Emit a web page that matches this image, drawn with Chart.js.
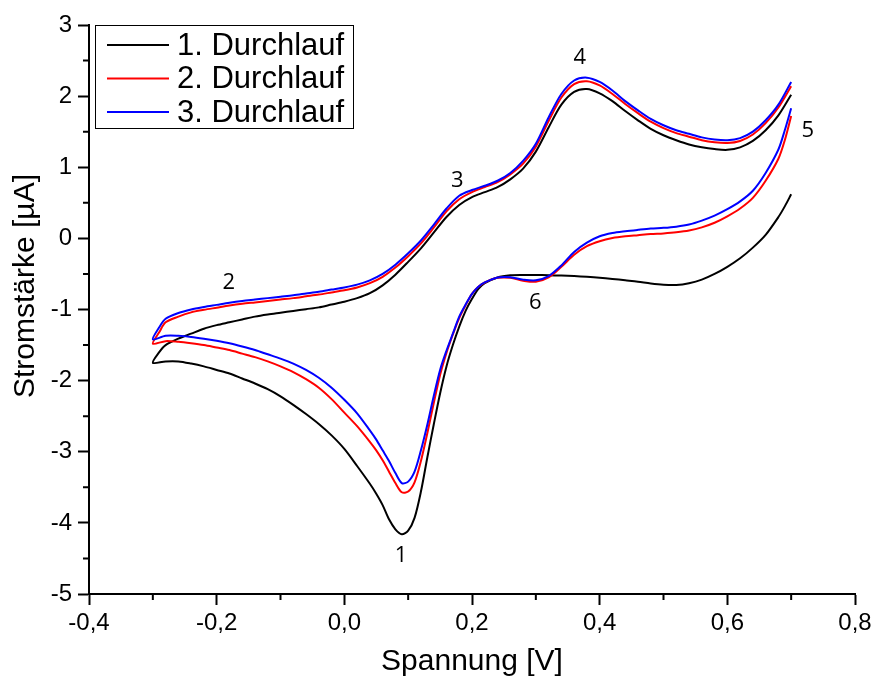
<!DOCTYPE html>
<html>
<head>
<meta charset="utf-8">
<script src="https://cdn.jsdelivr.net/npm/chart.js@4.4.1/dist/chart.umd.min.js"></script>
<style>
html, body { margin: 0; padding: 0; background: #fff; }
</style>
</head>
<body>
<canvas id="cvChart" width="878" height="680"></canvas>
<script>
// cathodic sweep 0.7 -> -0.3 V
var backV = [
  0.70, 0.69, 0.68, 0.66, 0.64, 0.62, 0.60, 0.58, 0.56, 0.54, 0.52, 0.50, 0.48, 0.46, 0.44,
  0.42, 0.40, 0.38, 0.36, 0.34, 0.32, 0.30, 0.28, 0.26, 0.24, 0.22, 0.21, 0.20, 0.19, 0.18,
  0.17, 0.16, 0.15, 0.14, 0.13, 0.12, 0.11, 0.10, 0.09, 0.08, 0.07, 0.06, 0.05, 0.04, 0.02,
  0.00, -0.02, -0.04, -0.06, -0.08, -0.10, -0.12, -0.14, -0.16, -0.18, -0.20, -0.22, -0.24,
  -0.26, -0.28, -0.30
];
// anodic sweep -0.3 -> 0.7 V
var fwdV = [
  -0.29, -0.28, -0.26, -0.24, -0.22, -0.20, -0.18, -0.16, -0.14, -0.12, -0.10, -0.08, -0.06,
  -0.04, -0.02, 0.00, 0.02, 0.04, 0.06, 0.08, 0.10, 0.12, 0.14, 0.16, 0.18, 0.20, 0.22, 0.24,
  0.26, 0.28, 0.30, 0.32, 0.34, 0.36, 0.38, 0.40, 0.42, 0.44, 0.46, 0.48, 0.50, 0.52, 0.54,
  0.56, 0.58, 0.60, 0.62, 0.64, 0.66, 0.68, 0.70
];

// current in µA, run 1..3, cathodic part
var back1 = [
  0.62, 0.45, 0.30, 0.05, -0.13, -0.28, -0.40, -0.50, -0.58, -0.63, -0.655, -0.652, -0.635, -0.61, -0.59,
  -0.57, -0.553, -0.54, -0.53, -0.523, -0.518, -0.515, -0.515, -0.52, -0.55, -0.63, -0.71, -0.85, -1.02, -1.24,
  -1.50, -1.80, -2.18, -2.62, -3.08, -3.56, -3.93, -4.11, -4.16, -4.09, -3.95, -3.75, -3.59, -3.45, -3.20,
  -2.96, -2.77, -2.61, -2.47, -2.34, -2.22, -2.12, -2.04, -1.97, -1.90, -1.85, -1.80, -1.76,
  -1.73, -1.73, -1.75
];
var back2 = [
  1.72, 1.38, 1.12, 0.81, 0.57, 0.42, 0.31, 0.22, 0.155, 0.11, 0.085, 0.07, 0.06, 0.045, 0.03,
  0.005, -0.04, -0.11, -0.23, -0.40, -0.55, -0.61, -0.595, -0.555, -0.555, -0.62, -0.68, -0.78, -0.94, -1.12,
  -1.35, -1.61, -1.92, -2.32, -2.74, -3.13, -3.43, -3.56, -3.57, -3.44, -3.28, -3.12, -2.98, -2.86, -2.64,
  -2.45, -2.26, -2.10, -1.98, -1.88, -1.80, -1.73, -1.67, -1.62, -1.57, -1.535, -1.50, -1.475,
  -1.455, -1.445, -1.48
];
var back3 = [
  1.83, 1.52, 1.25, 0.92, 0.67, 0.52, 0.41, 0.32, 0.25, 0.195, 0.165, 0.148, 0.138, 0.12, 0.10,
  0.075, 0.03, -0.06, -0.19, -0.38, -0.53, -0.59, -0.58, -0.545, -0.55, -0.62, -0.68, -0.78, -0.93, -1.10,
  -1.34, -1.58, -1.85, -2.22, -2.62, -2.98, -3.28, -3.42, -3.44, -3.30, -3.13, -2.98, -2.83, -2.70, -2.46,
  -2.27, -2.10, -1.96, -1.85, -1.76, -1.69, -1.63, -1.57, -1.52, -1.475, -1.44, -1.41, -1.385,
  -1.37, -1.37, -1.42
];
// anodic part
var fwd1 = [
  -1.60, -1.50, -1.41, -1.34, -1.27, -1.22, -1.18, -1.14, -1.10, -1.07, -1.045, -1.02, -0.995,
  -0.97, -0.93, -0.89, -0.84, -0.77, -0.66, -0.51, -0.33, -0.14, 0.08, 0.30, 0.47, 0.58, 0.65, 0.72,
  0.83, 0.98, 1.22, 1.56, 1.88, 2.06, 2.10, 2.04, 1.93, 1.79, 1.66, 1.54, 1.45, 1.38, 1.32,
  1.28, 1.255, 1.245, 1.28, 1.37, 1.52, 1.73, 2.02
];
var fwd2 = [
  -1.32, -1.18, -1.10, -1.04, -1.005, -0.975, -0.945, -0.92, -0.90, -0.88, -0.86, -0.84, -0.815,
  -0.79, -0.76, -0.73, -0.69, -0.63, -0.54, -0.41, -0.25, -0.07, 0.15, 0.38, 0.55, 0.65, 0.72, 0.79,
  0.90, 1.05, 1.29, 1.65, 1.98, 2.17, 2.21, 2.15, 2.03, 1.89, 1.76, 1.64, 1.55, 1.48, 1.43,
  1.38, 1.35, 1.34, 1.37, 1.46, 1.62, 1.84, 2.14
];
var fwd3 = [
  -1.25, -1.13, -1.05, -1.00, -0.965, -0.935, -0.905, -0.88, -0.86, -0.84, -0.82, -0.80, -0.775,
  -0.75, -0.72, -0.69, -0.65, -0.59, -0.50, -0.37, -0.21, -0.03, 0.19, 0.42, 0.60, 0.68, 0.74, 0.81,
  0.92, 1.09, 1.33, 1.70, 2.03, 2.22, 2.26, 2.20, 2.08, 1.93, 1.80, 1.68, 1.59, 1.52, 1.47,
  1.42, 1.39, 1.38, 1.41, 1.50, 1.66, 1.88, 2.20
];

var runNames = ['1. Durchlauf', '2. Durchlauf', '3. Durchlauf'];
var runColors = ['#000000', '#ff0000', '#0000ff'];

// peak numbers written next to the curves
var peakText = ['1', '2', '3', '4', '5', '6'];
var peakV = [0.089, -0.181, 0.177, 0.369, 0.726, 0.299];
var peakI = [-4.46, -0.62, 0.81, 2.54, 1.51, -0.91];

// minor ticks between the labelled ones
var minorV = [-0.3, -0.1, 0.1, 0.3, 0.5, 0.7];
var minorI = [2.5, 1.5, 0.5, -0.5, -1.5, -2.5, -3.5, -4.5];

function toPoints(back, fwd) {
  var pts = backV.map(function (v, i) { return { x: v, y: back[i] }; });
  return pts.concat(fwdV.map(function (v, i) { return { x: v, y: fwd[i] }; }));
}

var backs = [back1, back2, back3];
var fwds = [fwd1, fwd2, fwd3];
var datasets = runNames.map(function (name, i) {
  return {
    label: name,
    data: toPoints(backs[i], fwds[i]),
    showLine: true,
    borderColor: runColors[i],
    backgroundColor: runColors[i],
    borderWidth: 2,
    pointRadius: 0,
    tension: 0.3,
    order: 3 - i
  };
});

var axisFont = { family: "'Liberation Sans', Arial, sans-serif", size: 24 };
var titleFont = { family: "'Liberation Sans', Arial, sans-serif", size: 30 };

// small ticks, y title, peak numbers, legend box
var extras = {
  id: 'extras',
  afterDraw: function (chart) {
    var ctx = chart.ctx;
    var xs = chart.scales.x, ys = chart.scales.y;
    var area = chart.chartArea;
    ctx.save();
    ctx.strokeStyle = '#000';
    ctx.lineWidth = 2;
    ctx.beginPath();
    minorV.forEach(function (v) {
      var px = xs.getPixelForValue(v);
      ctx.moveTo(px, area.bottom);
      ctx.lineTo(px, area.bottom + 6);
    });
    minorI.forEach(function (v) {
      var py = ys.getPixelForValue(v);
      ctx.moveTo(area.left - 6, py);
      ctx.lineTo(area.left, py);
    });
    ctx.stroke();

    ctx.fillStyle = '#000';
    ctx.save();
    ctx.translate(26, 286);
    ctx.rotate(-Math.PI / 2);
    ctx.font = "30px 'Liberation Sans', Arial, sans-serif";
    ctx.textAlign = 'center';
    ctx.textBaseline = 'middle';
    ctx.fillText('Stromstärke [µA]', 0, 0);
    ctx.restore();

    ctx.font = "22px 'Open Sans', sans-serif";
    ctx.textAlign = 'center';
    ctx.textBaseline = 'middle';
    peakText.forEach(function (t, i) {
      ctx.fillText(t, xs.getPixelForValue(peakV[i]), ys.getPixelForValue(peakI[i]));
    });

    // legend
    var bx = area.left + 6, by = area.top, bw = 258, bh = 103;
    ctx.fillStyle = '#fff';
    ctx.fillRect(bx, by, bw, bh);
    ctx.lineWidth = 1;
    ctx.strokeStyle = '#000';
    ctx.strokeRect(bx + 0.5, by + 0.5, bw, bh);
    ctx.font = "31px 'Liberation Sans', Arial, sans-serif";
    ctx.textAlign = 'left';
    chart.data.datasets.forEach(function (ds, i) {
      var ly = by + 20 + i * 33.5;
      ctx.strokeStyle = ds.borderColor;
      ctx.lineWidth = 2;
      ctx.beginPath();
      ctx.moveTo(bx + 12, ly);
      ctx.lineTo(bx + 74, ly);
      ctx.stroke();
      ctx.fillStyle = '#000';
      ctx.fillText(ds.label, bx + 82, ly + 1);
    });
    ctx.restore();
  }
};

var chart = new Chart(document.getElementById('cvChart').getContext('2d'), {
  type: 'scatter',
  data: { datasets: datasets },
  options: {
    responsive: false,
    animation: false,
    devicePixelRatio: 1,
    layout: { padding: { top: 25, right: 23, left: 0, bottom: 0 } },
    plugins: { legend: { display: false }, tooltip: { enabled: false } },
    scales: {
      x: {
        type: 'linear',
        min: -0.4,
        max: 0.8,
        afterFit: function (s) { s.height = 86; },
        ticks: {
          stepSize: 0.2,
          color: '#000',
          font: axisFont,
          padding: 4,
          maxRotation: 0,
          callback: function (v) {
            if (Math.abs(v) < 1e-9) v = 0;
            return v.toFixed(1).replace('.', ',');
          }
        },
        grid: { drawOnChartArea: false, drawTicks: true, tickLength: 11, tickWidth: 2, tickColor: '#000' },
        border: { display: true, color: '#000', width: 2 },
        title: { display: true, text: 'Spannung [V]', color: '#000', font: titleFont, padding: { top: 0, bottom: 0 } }
      },
      y: {
        type: 'linear',
        min: -5,
        max: 3,
        afterFit: function (s) { s.width = 89; },
        ticks: { stepSize: 1, color: '#000', font: axisFont, padding: 6 },
        grid: { drawOnChartArea: false, drawTicks: true, tickLength: 11, tickWidth: 2, tickColor: '#000' },
        border: { display: true, color: '#000', width: 2 },
        title: { display: false }
      }
    }
  },
  plugins: [extras]
});
</script>
</body>
</html>
